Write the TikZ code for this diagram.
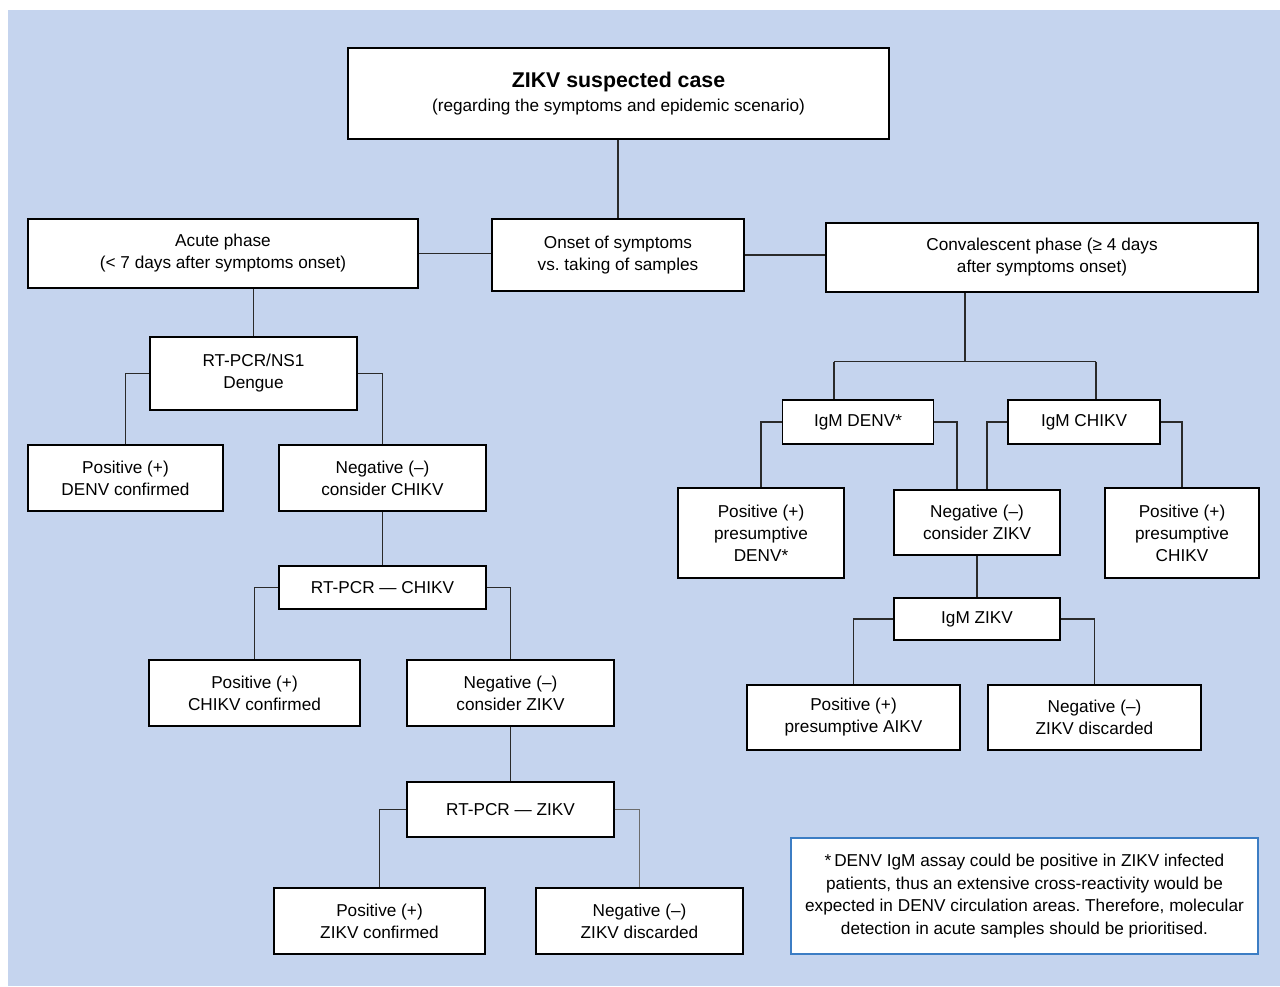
\documentclass[tikz,border=0pt]{standalone}
\usepackage{fontspec}
\setmainfont{Liberation Sans}
\frenchspacing
\definecolor{bgblue}{HTML}{C5D4EE}
\definecolor{lncol}{HTML}{2A2A2A}
\definecolor{notecol}{HTML}{3C7DC4}
\begin{document}
\begin{tikzpicture}[x=0.75pt,y=-0.75pt,
  box/.style={draw=black, line width=1.1pt, fill=white, align=center, inner sep=0pt,
    font=\fontsize{12.9}{16.5}\selectfont},
  sz/.style 2 args={minimum width=#1*0.75pt, minimum height=#2*0.75pt},
  ln/.style={draw=lncol, line width=1pt},
  lngray/.style={draw=gray!85!black, line width=1pt}]
\useasboundingbox (0,0) rectangle (1280,986);
\fill[bgblue] (8,10) rectangle (1280,986);

% top and phases
\node[box, sz={541}{91}] (top) at (618.5,93.5)
  {{\fontsize{16}{19}\selectfont\bfseries ZIKV suspected case}\\[1pt](regarding the symptoms and epidemic scenario)};
\node[box, sz={390}{69}] (acute) at (223,253.5) {Acute phase\\(< 7 days after symptoms onset)};
\node[box, sz={252}{72}] (onset) at (618,255) {Onset of symptoms\\vs. taking of samples};
\node[box, sz={432}{69}] (conv) at (1042,257.5) {Convalescent phase (≥ 4 days\\after symptoms onset)};

% acute branch
\node[box, sz={207}{73}] (ns1) at (253.5,373.5) {RT-PCR/NS1\\Dengue};
\node[box, sz={195}{66}] (posD) at (125.5,478) {Positive (+)\\DENV confirmed};
\node[box, sz={207}{66}] (negC) at (382.5,478) {Negative (–)\\consider CHIKV};
\node[box, sz={207}{43}] (rtC) at (382.5,587.5) {RT-PCR — CHIKV};
\node[box, sz={211}{66}] (posC) at (254.5,693) {Positive (+)\\CHIKV confirmed};
\node[box, sz={207}{66}] (negZ) at (510.5,693) {Negative (–)\\consider ZIKV};
\node[box, sz={207}{55}] (rtZ) at (510.5,809.5) {RT-PCR — ZIKV};
\node[box, sz={211}{66}] (posZ) at (379.5,921) {Positive (+)\\ZIKV confirmed};
\node[box, sz={207}{66}] (negZd) at (639.5,921) {Negative (–)\\ZIKV discarded};

% convalescent branch
\node[box, sz={151}{44}] (igmD) at (858,422) {IgM DENV*};
\node[box, sz={152}{44}] (igmC) at (1084,422) {IgM CHIKV};
\node[box, sz={166}{90}] (pDp) at (761,533) {Positive (+)\\presumptive\\DENV*};
\node[box, sz={166}{65}] (nZr) at (977,522.5) {Negative (–)\\consider ZIKV};
\node[box, sz={154}{90}] (pCp) at (1182,533) {Positive (+)\\presumptive\\CHIKV};
\node[box, sz={166}{42}] (igmZ) at (977,619) {IgM ZIKV};
\node[box, sz={213}{65}] (pAIKV) at (853.5,717.5) {Positive (+)\\presumptive AIKV};
\node[box, sz={213}{65}] (nZd2) at (1094.5,717.5) {Negative (–)\\ZIKV discarded};

% note
\node[box, draw=notecol, line width=1pt, sz={467}{116},
  font=\fontsize{12.9}{16.9}\selectfont] (note) at (1024.5,896)
  {*\,DENV IgM assay could be positive in ZIKV infected\\
   patients, thus an extensive cross-reactivity would be\\
   expected in DENV circulation areas. Therefore, molecular\\
   detection in acute samples should be prioritised.};

% connectors: top
\draw[ln] (onset.north |- top.south) -- (onset.north);
\draw[ln] (acute.east) -- (acute.east -| onset.west);
\draw[ln] (onset.east) -- (onset.east -| conv.west);

% acute branch connectors
\draw[ln] (ns1.north |- acute.south) -- (ns1.north);
\draw[ln] (ns1.west) -| (posD.north);
\draw[ln] (ns1.east) -| (negC.north);
\draw[ln] (negC.south) -- (rtC.north);
\draw[ln] (rtC.west) -| (posC.north);
\draw[ln] (rtC.east) -| (negZ.north);
\draw[ln] (negZ.south) -- (rtZ.north);
\draw[ln] (rtZ.west) -| (posZ.north);
\draw[lngray] (rtZ.east) -| (negZd.north);

% convalescent connectors
\coordinate (split) at (965,361.5);
\coordinate (cL) at (834,361.5);
\coordinate (cR) at (1096,361.5);
\draw[ln] (split |- conv.south) -- (split);
\draw[ln] (cL) -- (cR);
\draw[ln] (cL) -- (cL |- igmD.north);
\draw[ln] (cR) -- (cR |- igmC.north);
\draw[ln] (igmD.west) -| (pDp.north);
\draw[ln] (igmD.east) -| ([xshift=-15pt]nZr.north);
\draw[ln] (igmC.west) -| ([xshift=7.5pt]nZr.north);
\draw[ln] (igmC.east) -| (pCp.north);
\draw[ln] (nZr.south) -- (igmZ.north);
\draw[ln] (igmZ.west) -| (pAIKV.north);
\draw[ln] (igmZ.east) -| (nZd2.north);
\end{tikzpicture}
\end{document}
